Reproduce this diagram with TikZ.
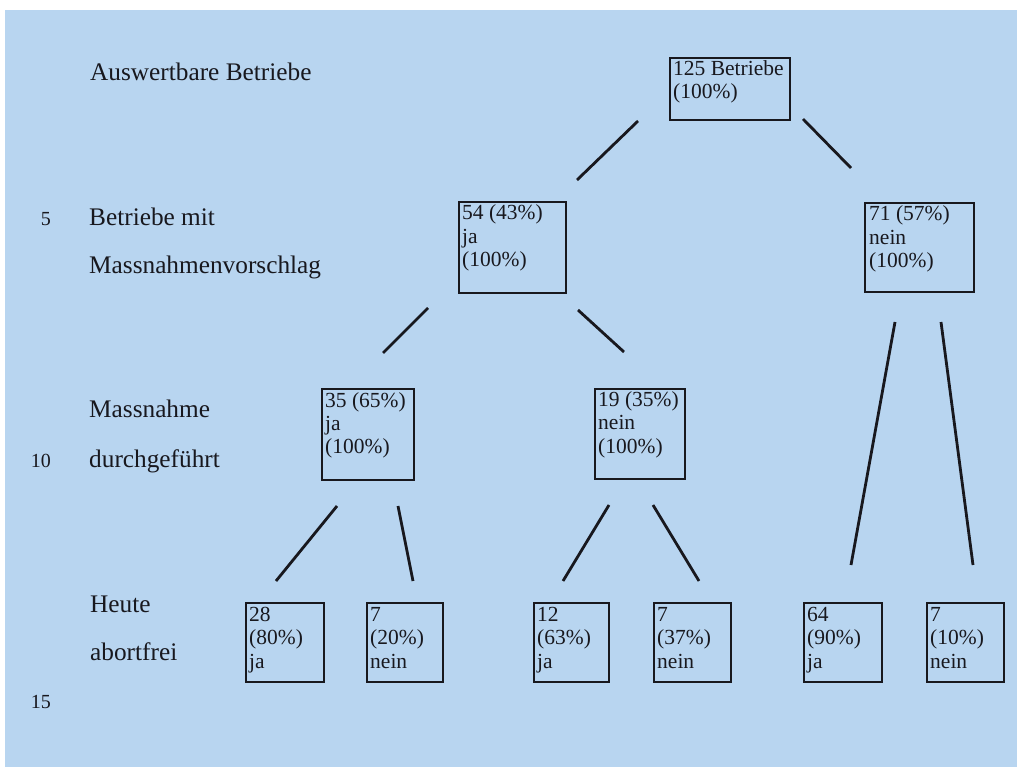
\documentclass[tikz,border=0pt]{standalone}
\usepackage{fontspec}
\setmainfont{Liberation Serif}
\definecolor{bg}{RGB}{184,213,240}
\definecolor{ink}{RGB}{24,24,30}
\newcommand{\bxt}[1]{\parbox[t]{150pt}{\raggedright #1}}
\begin{document}
\begin{tikzpicture}[x=1pt,y=-1pt,
  box/.style={draw=ink, line width=2.2pt, inner sep=0pt, anchor=north west},
  btxt/.style={inner sep=0pt, anchor=base west, text=ink, font=\fontsize{21.5}{23.3}\selectfont},
  lbl/.style={inner sep=0pt, anchor=base west, text=ink, font=\fontsize{25.3}{30}\selectfont},
  lnum/.style={inner sep=0pt, anchor=base east, text=ink, font=\fontsize{20}{22}\selectfont},
  conn/.style={draw=ink, line width=2.8pt}]
\useasboundingbox (0,0) rectangle (1017,767);
\fill[white] (0,0) rectangle (1017,767);
\fill[bg] (5,10) rectangle (1017,767);

% left labels
\node[lbl] (l1) at (90,81) {Auswertbare Betriebe};
\node[lbl] (l2a) at (89,226) {Betriebe mit};
\node[lbl] (l2b) at (89,274) {Massnahmenvorschlag};
\node[lbl] (l3a) at (89,417) {Massnahme};
\node[lbl] (l3b) at (89,467) {durchgeführt};
\node[lbl] (l4a) at (90,612) {Heute};
\node[lbl] (l4b) at (90,660) {abortfrei};
\node[lnum] (n5) at (51,226) {5};
\node[lnum] (n10) at (51,467) {10};
\node[lnum] (n15) at (51,708) {15};

% boxes
\node[box, minimum width=120pt, minimum height=62pt] (b125) at (669,57) {};
\node[box, minimum width=107pt, minimum height=91pt] (b54) at (458,201) {};
\node[box, minimum width=109pt, minimum height=89pt] (b71) at (864,202) {};
\node[box, minimum width=92pt, minimum height=91pt] (b35) at (321,388) {};
\node[box, minimum width=90pt, minimum height=90pt] (b19) at (594,388) {};
\node[box, minimum width=78pt, minimum height=79pt] (b28) at (245,602) {};
\node[box, minimum width=76pt, minimum height=79pt] (b7a) at (366,602) {};
\node[box, minimum width=75pt, minimum height=79pt] (b12) at (533,602) {};
\node[box, minimum width=77pt, minimum height=79pt] (b7b) at (653,602) {};
\node[box, minimum width=78pt, minimum height=79pt] (b64) at (803,602) {};
\node[box, minimum width=77pt, minimum height=79pt] (b7c) at (926,602) {};

% box texts
\node[btxt] (t125) at ([shift={(4,18.5)}]b125.north west) {\bxt{125 Betriebe\\(100\%)}};
\node[btxt] (t54) at ([shift={(4,19)}]b54.north west) {\bxt{54 (43\%)\\ja\\(100\%)}};
\node[btxt] (t71) at ([shift={(5,19)}]b71.north west) {\bxt{71 (57\%)\\nein\\(100\%)}};
\node[btxt] (t35) at ([shift={(4,19)}]b35.north west) {\bxt{35 (65\%)\\ja\\(100\%)}};
\node[btxt] (t19) at ([shift={(4,18.5)}]b19.north west) {\bxt{19 (35\%)\\nein\\(100\%)}};
\node[btxt] (t28) at ([shift={(4,19.5)}]b28.north west) {\bxt{28\\(80\%)\\ja}};
\node[btxt] (t7a) at ([shift={(4,19.5)}]b7a.north west) {\bxt{7\\(20\%)\\nein}};
\node[btxt] (t12) at ([shift={(4,19.5)}]b12.north west) {\bxt{12\\(63\%)\\ja}};
\node[btxt] (t7b) at ([shift={(4,19.5)}]b7b.north west) {\bxt{7\\(37\%)\\nein}};
\node[btxt] (t64) at ([shift={(4,19.5)}]b64.north west) {\bxt{64\\(90\%)\\ja}};
\node[btxt] (t7c) at ([shift={(4,19.5)}]b7c.north west) {\bxt{7\\(10\%)\\nein}};

% connector end points
\coordinate (a1) at (638,121); \coordinate (a2) at (577,180);
\coordinate (b1) at (803,119); \coordinate (b2) at (851,168);
\coordinate (c1) at (428,308); \coordinate (c2) at (383,353);
\coordinate (d1) at (578,310); \coordinate (d2) at (624,352);
\coordinate (e1) at (337,506); \coordinate (e2) at (276,581);
\coordinate (f1) at (398,506); \coordinate (f2) at (413,581);
\coordinate (g1) at (609,505); \coordinate (g2) at (563,581);
\coordinate (h1) at (653,505); \coordinate (h2) at (699,581);
\coordinate (i1) at (895,322); \coordinate (i2) at (851,565);
\coordinate (j1) at (941,322); \coordinate (j2) at (973,565);

\draw[conn] (a1) -- (a2);
\draw[conn] (b1) -- (b2);
\draw[conn] (c1) -- (c2);
\draw[conn] (d1) -- (d2);
\draw[conn] (e1) -- (e2);
\draw[conn] (f1) -- (f2);
\draw[conn] (g1) -- (g2);
\draw[conn] (h1) -- (h2);
\draw[conn] (i1) -- (i2);
\draw[conn] (j1) -- (j2);
\end{tikzpicture}
\end{document}
